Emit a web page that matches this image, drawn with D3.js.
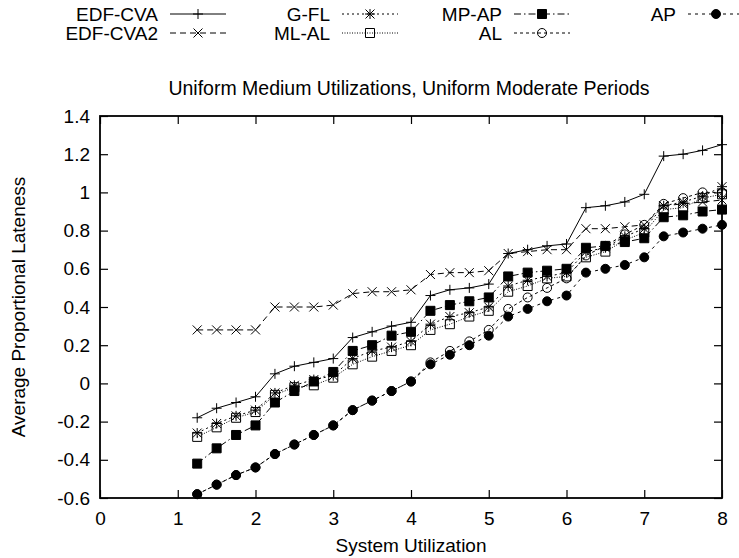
<!DOCTYPE html>
<html lang="en">
<head>
<meta charset="UTF-8">
<title>Average Proportional Lateness</title>
<script src="https://d3js.org/d3.v7.min.js"></script>
<style>
  body { margin: 0; background: #fff; }
  text { font-family: "Liberation Sans", Arial, Helvetica, sans-serif; fill: #000; }
</style>
</head>
<body>
<svg id="chart" width="739" height="558"></svg>
<script>
// system utilization values on the x axis
const utilization = [1.25, 1.5, 1.75, 2.0, 2.25, 2.5, 2.75, 3.0, 3.25, 3.5, 3.75, 4.0, 4.25, 4.5,
                     4.75, 5.0, 5.25, 5.5, 5.75, 6.0, 6.25, 6.5, 6.75, 7.0, 7.25, 7.5, 7.75, 8.0];

const edfCva  = [-0.18, -0.13, -0.10, -0.07, 0.05, 0.09, 0.11, 0.13, 0.24, 0.27, 0.30, 0.32, 0.46, 0.49,
                 0.50, 0.52, 0.68, 0.70, 0.72, 0.73, 0.92, 0.93, 0.95, 0.99, 1.19, 1.20, 1.22, 1.25];
const edfCva2 = [0.28, 0.28, 0.28, 0.28, 0.40, 0.40, 0.40, 0.41, 0.47, 0.48, 0.48, 0.49, 0.57, 0.58,
                 0.58, 0.59, 0.68, 0.69, 0.70, 0.70, 0.81, 0.81, 0.82, 0.83, 0.93, 0.94, 0.95, 0.96];
const gFl     = [-0.26, -0.21, -0.17, -0.14, -0.05, -0.01, 0.02, 0.04, 0.13, 0.17, 0.19, 0.22, 0.31, 0.35,
                 0.37, 0.40, 0.51, 0.54, 0.56, 0.58, 0.69, 0.71, 0.77, 0.81, 0.93, 0.95, 0.98, 1.03];
const mlAl    = [-0.28, -0.23, -0.18, -0.15, -0.06, -0.02, -0.01, 0.03, 0.10, 0.14, 0.17, 0.20, 0.28, 0.31,
                 0.35, 0.38, 0.48, 0.51, 0.55, 0.56, 0.66, 0.69, 0.75, 0.79, 0.91, 0.92, 0.97, 0.99];
const mpAp    = [-0.42, -0.34, -0.27, -0.22, -0.10, -0.04, 0.01, 0.06, 0.17, 0.20, 0.25, 0.27, 0.38, 0.41,
                 0.43, 0.45, 0.56, 0.58, 0.59, 0.60, 0.71, 0.72, 0.74, 0.76, 0.87, 0.88, 0.90, 0.91];
const al      = [-0.58, -0.53, -0.48, -0.44, -0.37, -0.32, -0.27, -0.22, -0.14, -0.09, -0.04, 0.01, 0.11, 0.17,
                 0.22, 0.28, 0.39, 0.45, 0.50, 0.55, 0.67, 0.72, 0.78, 0.83, 0.94, 0.97, 1.00, 1.00];
const ap      = [-0.58, -0.53, -0.48, -0.44, -0.37, -0.32, -0.27, -0.22, -0.14, -0.09, -0.04, 0.01, 0.10, 0.15,
                 0.20, 0.25, 0.35, 0.39, 0.43, 0.46, 0.58, 0.60, 0.62, 0.66, 0.77, 0.79, 0.81, 0.83];

const seriesNames = ["EDF-CVA", "EDF-CVA2", "G-FL", "ML-AL", "MP-AP", "AL", "AP"];
const seriesValues = [edfCva, edfCva2, gFl, mlAl, mpAp, al, ap];

const xTicks = [0, 1, 2, 3, 4, 5, 6, 7, 8];
const yTicks = [-0.6, -0.4, -0.2, 0, 0.2, 0.4, 0.6, 0.8, 1, 1.2, 1.4];

// line / point style per series (gnuplot-like)
const styles = [
  { dash: null,          point: "plus" },
  { dash: "6,4",         point: "cross" },
  { dash: "2,3",         point: "star" },
  { dash: "1,1.5",       point: "square" },
  { dash: "7,3,1.5,3",   point: "fsquare" },
  { dash: "3,3",         point: "circle" },
  { dash: "3,4",         point: "fcircle" }
];

const plotLeft = 100, plotRight = 722, plotTop = 116, plotBottom = 498;
const svg = d3.select("#chart");

const x = d3.scaleLinear().domain([0, 8]).range([plotLeft, plotRight]);
const y = d3.scaleLinear().domain([-0.6, 1.4]).range([plotBottom, plotTop]);

function markerPath(type) {
  const s = 5, r = 4.5;
  switch (type) {
    case "plus":  return `M${-s},0H${s}M0,${-s}V${s}`;
    case "cross": return `M${-r},${-r}L${r},${r}M${-r},${r}L${r},${-r}`;
    case "star":  return `M${-s},0H${s}M0,${-s}V${s}M${-r},${-r}L${r},${r}M${-r},${r}L${r},${-r}`;
    case "square":
    case "fsquare": return `M${-r},${-r}H${r}V${r}H${-r}Z`;
    default: return d3.arc()({ innerRadius: 0, outerRadius: r, startAngle: 0, endAngle: 2 * Math.PI });
  }
}

function drawPoint(g, type, px, py) {
  const filled = type === "fsquare" || type === "fcircle";
  g.append("path")
    .attr("d", markerPath(type))
    .attr("transform", `translate(${px},${py})`)
    .attr("fill", filled ? "#000" : "none")
    .attr("stroke", "#000")
    .attr("stroke-width", 1);
}

// axes with inward ticks on all four sides
svg.append("g").attr("transform", `translate(0,${plotBottom})`)
  .call(d3.axisBottom(x).tickValues(xTicks).tickSize(-8).tickPadding(14).tickFormat(d3.format("d")))
  .call(g => g.select(".domain").remove());
svg.append("g").attr("transform", `translate(0,${plotTop})`)
  .call(d3.axisTop(x).tickValues(xTicks).tickSize(-8).tickFormat(""))
  .call(g => g.select(".domain").remove());
svg.append("g").attr("transform", `translate(${plotLeft},0)`)
  .call(d3.axisLeft(y).tickValues(yTicks).tickSize(-8).tickPadding(10).tickFormat(d => String(+d.toFixed(1))))
  .call(g => g.select(".domain").remove());
svg.append("g").attr("transform", `translate(${plotRight},0)`)
  .call(d3.axisRight(y).tickValues(yTicks).tickSize(-8).tickFormat(""))
  .call(g => g.select(".domain").remove());

svg.selectAll(".tick line").attr("stroke", "#000").attr("stroke-width", 1.2);
svg.selectAll(".tick text").style("font-size", "19px").attr("fill", "#000")
  .style("font-family", "'Liberation Sans', Arial, sans-serif");

svg.append("rect")
  .attr("x", plotLeft).attr("y", plotTop)
  .attr("width", plotRight - plotLeft).attr("height", plotBottom - plotTop)
  .attr("fill", "none").attr("stroke", "#000").attr("stroke-width", 1.8);

// series
const line = d3.line().x((d, i) => x(utilization[i])).y(d => y(d));
seriesValues.forEach((vals, k) => {
  const st = styles[k];
  const g = svg.append("g");
  g.append("path")
    .attr("d", line(vals))
    .attr("fill", "none")
    .attr("stroke", "#000")
    .attr("stroke-width", 1)
    .attr("stroke-dasharray", st.dash);
  vals.forEach((v, i) => drawPoint(g, st.point, x(utilization[i]), y(v)));
});

// titles
svg.append("text").attr("x", 409).attr("y", 95).attr("text-anchor", "middle")
  .style("font-size", "19.5px").text("Uniform Medium Utilizations, Uniform Moderate Periods");
svg.append("text").attr("x", 411).attr("y", 552).attr("text-anchor", "middle")
  .style("font-size", "19px").text("System Utilization");
svg.append("text").attr("transform", "translate(25,307) rotate(-90)").attr("text-anchor", "middle")
  .style("font-size", "19px").text("Average Proportional Lateness");

// key: two rows, filled column by column
const keyCols = [158, 330, 502, 676];
const keyRows = [21, 40];
seriesNames.forEach((name, k) => {
  const col = Math.floor(k / 2), row = k % 2;
  const tx = keyCols[col], ty = keyRows[row];
  const g = svg.append("g");
  g.append("text").attr("x", tx).attr("y", ty).attr("text-anchor", "end")
    .style("font-size", "19px").text(name);
  const x0 = tx + 12, x1 = tx + 68, ly = ty - 7;
  g.append("line").attr("x1", x0).attr("x2", x1).attr("y1", ly).attr("y2", ly)
    .attr("stroke", "#000").attr("stroke-width", 1)
    .attr("stroke-dasharray", styles[k].dash);
  drawPoint(g, styles[k].point, (x0 + x1) / 2, ly);
});
</script>
</body>
</html>
